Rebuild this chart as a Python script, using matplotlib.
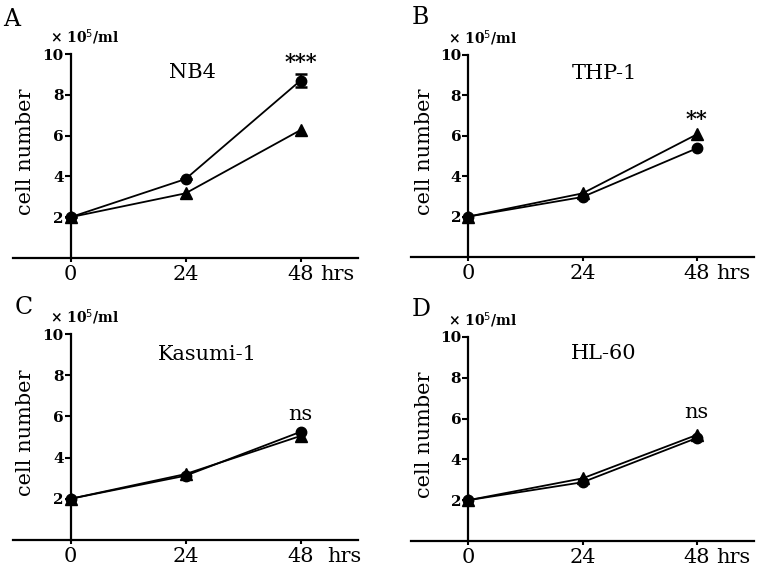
import matplotlib
matplotlib.use('Agg')
from matplotlib import pyplot as plt

plt.rcParams['font.family'] = 'DejaVu Serif'

W, H = 767, 569

hours = [0, 24, 48]

# NB4
nb4_circle = [2.0, 3.87, 8.7]
nb4_circle_err = [0, 0, 0.3]
nb4_triangle = [2.0, 3.17, 6.27]
# THP-1
thp1_circle = [2.0, 2.97, 5.38]
thp1_triangle = [2.0, 3.15, 6.07]
# Kasumi-1
kas_circle = [2.0, 3.12, 5.25]
kas_triangle = [2.0, 3.2, 5.05]
# HL-60
hl60_circle = [2.0, 2.88, 5.05]
hl60_triangle = [2.0, 3.07, 5.2]

panels = [
    ('A', 'NB4', nb4_circle, nb4_circle_err, nb4_triangle, '***'),
    ('B', 'THP-1', thp1_circle, None, thp1_triangle, '**'),
    ('C', 'Kasumi-1', kas_circle, None, kas_triangle, 'ns'),
    ('D', 'HL-60', hl60_circle, None, hl60_triangle, 'ns'),
]

# layout in pixels: axes box (left, top, right, bottom), letter pos, name pos (data), mark y, hrs offset
layout = [
    ((13, 54, 358, 258), (3, 20), (25.4, 9.07), 9.6, 14),
    ((411, 55, 754, 257), (412, 18), (28.5, 9.1), 6.85, 14),
    ((13, 334, 358, 540), (15, 308), (28.5, 9.0), 6.1, 19),
    ((411, 337, 754, 541), (412, 310), (28.5, 9.2), 6.3, 14),
]

fig = plt.figure(figsize=(W / 100, H / 100), dpi=100)


def fx(px):
    return px / W


def fy(py):
    return 1 - py / H


for (letter, name, circ, err, tri, mark), ((l, t, r, b), lpos, npos, my, hoff) in zip(panels, layout):
    ax = fig.add_axes([fx(l), fy(b), fx(r - l), (b - t) / H])
    ax.set_xlim(-12, 60)
    ax.set_ylim(0, 10)

    ax.plot(hours, tri, color='black', lw=1.3, marker='^', ms=8, zorder=3, clip_on=False)
    ax.plot(hours, circ, color='black', lw=1.3, marker='o', ms=7.5, zorder=4, clip_on=False)
    if err is not None:
        ax.errorbar(hours, circ, yerr=err, fmt='none', ecolor='black',
                    elinewidth=1.5, capsize=4, capthick=1.8, zorder=5)

    for s in ['top', 'right']:
        ax.spines[s].set_visible(False)
    ax.spines['left'].set_position(('data', 0))
    ax.spines['left'].set_linewidth(1.6)
    ax.spines['bottom'].set_linewidth(1.6)

    ax.set_yticks([2, 4, 6, 8, 10])
    ax.set_yticklabels(['2', '4', '6', '8', '10'], fontsize=11, fontweight='bold')
    ax.set_xticks(hours)
    ax.set_xticklabels(['0', '24', '48'], fontsize=15)
    ax.tick_params(axis='y', direction='out', length=4, width=1.5, pad=1)
    ax.tick_params(axis='x', direction='out', length=3, width=1.5, pad=2)

    # hrs after the last tick label
    ax.annotate('hrs', xy=(48, 0), xycoords=('data', 'axes fraction'),
                xytext=(hoff, -5), textcoords='offset points',
                fontsize=15, ha='left', va='top')

    # cell line name and significance
    ax.text(npos[0], npos[1], name, fontsize=15, ha='center', va='center')
    weight = 'bold' if '*' in mark else 'normal'
    ax.text(48, my, mark, fontsize=15, fontweight=weight, ha='center', va='center')

    # panel letter and units
    fig.text(fx(lpos[0]), fy(lpos[1]), letter, fontsize=17, ha='left', va='center')
    fig.text(fx(l + 37), fy(t - 17), '× 10$^5$/ml', fontsize=10, fontweight='bold',
             ha='left', va='center')
    fig.text(fx(l + 13), fy((t + b) / 2 - 4), 'cell number', fontsize=15,
             rotation=90, ha='center', va='center')

fig.savefig('out.png', dpi=100)
